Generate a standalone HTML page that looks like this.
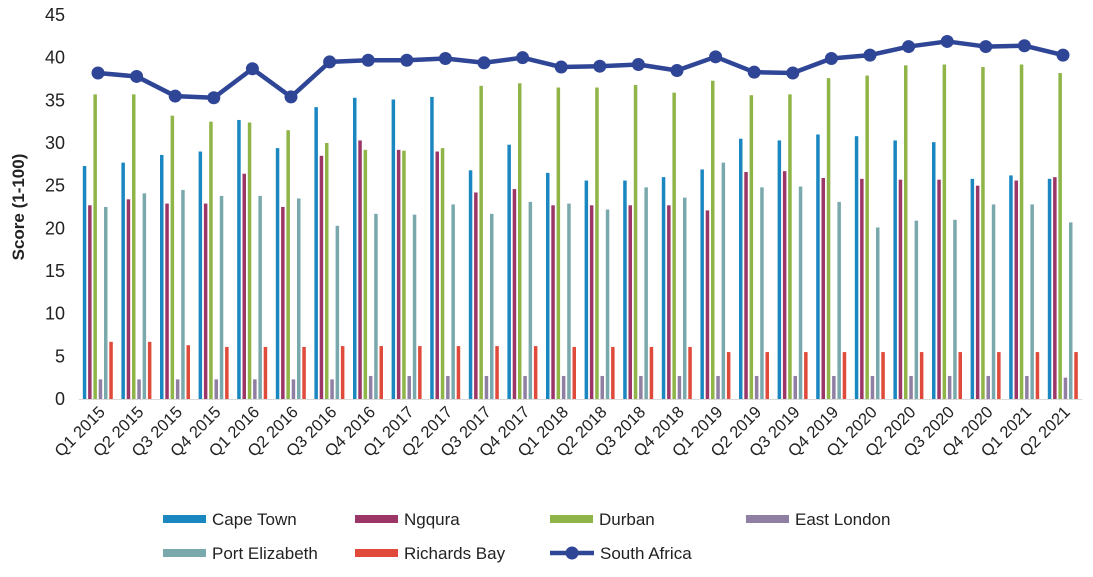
<!DOCTYPE html>
<html><head><meta charset="utf-8"><style>
body{margin:0;background:#fff;font-family:"Liberation Sans",sans-serif;}
svg text{font-family:"Liberation Sans",sans-serif;fill:#222;}
</style></head><body>
<svg id="chart" width="1093" height="572" xmlns="http://www.w3.org/2000/svg">
<g id="yaxis"></g>
<g id="xaxis"></g>
<g id="bars"></g>
<g id="line"></g>
<text transform="translate(24,207) rotate(-90)" text-anchor="middle" font-size="17" font-weight="bold">Score (1-100)</text>
<g id="legend"></g>
</svg>
<script>
const categories=["Q1 2015","Q2 2015","Q3 2015","Q4 2015","Q1 2016","Q2 2016","Q3 2016","Q4 2016","Q1 2017","Q2 2017","Q3 2017","Q4 2017","Q1 2018","Q2 2018","Q3 2018","Q4 2018","Q1 2019","Q2 2019","Q3 2019","Q4 2019","Q1 2020","Q2 2020","Q3 2020","Q4 2020","Q1 2021","Q2 2021"];
const capeTown=[27.3,27.7,28.6,29,32.7,29.4,34.2,35.3,35.1,35.4,26.8,29.8,26.5,25.6,25.6,26,26.9,30.5,30.3,31,30.8,30.3,30.1,25.8,26.2,25.8];
const ngqura=[22.7,23.4,22.9,22.9,26.4,22.5,28.5,30.3,29.2,29,24.2,24.6,22.7,22.7,22.7,22.7,22.1,26.6,26.7,25.9,25.8,25.7,25.7,25,25.6,26];
const durban=[35.7,35.7,33.2,32.5,32.4,31.5,30,29.2,29.1,29.4,36.7,37,36.5,36.5,36.8,35.9,37.3,35.6,35.7,37.6,37.9,39.1,39.2,38.9,39.2,38.2];
const eastLondon=[2.3,2.3,2.3,2.3,2.3,2.3,2.3,2.7,2.7,2.7,2.7,2.7,2.7,2.7,2.7,2.7,2.7,2.7,2.7,2.7,2.7,2.7,2.7,2.7,2.7,2.5];
const portElizabeth=[22.5,24.1,24.5,23.8,23.8,23.5,20.3,21.7,21.6,22.8,21.7,23.1,22.9,22.2,24.8,23.6,27.7,24.8,24.9,23.1,20.1,20.9,21,22.8,22.8,20.7];
const richardsBay=[6.7,6.7,6.3,6.1,6.1,6.1,6.2,6.2,6.2,6.2,6.2,6.2,6.1,6.1,6.1,6.1,5.5,5.5,5.5,5.5,5.5,5.5,5.5,5.5,5.5,5.5];
const southAfrica=[38.2,37.8,35.5,35.3,38.7,35.4,39.5,39.7,39.7,39.9,39.4,40,38.9,39,39.2,38.5,40.1,38.3,38.2,39.9,40.3,41.3,41.9,41.3,41.4,40.3];
const yTicks=[0,5,10,15,20,25,30,35,40,45];
const seriesNames=["Cape Town","Ngqura","Durban","East London","Port Elizabeth","Richards Bay"];
const seriesData=[capeTown,ngqura,durban,eastLondon,portElizabeth,richardsBay];
const colors=["#1a87c0","#9c3667","#8fb447","#8f7fa3","#7aa9ad","#df4a3a"];
const NS="http://www.w3.org/2000/svg";
const x0=78.7,gw=38.6,y0=399,yTop=15,yMax=45;
function y(v){return y0-(v/yMax)*(y0-yTop);}
function xc(i){return x0+gw*(i+0.5);}
function mk(t,a,p){const e=document.createElementNS(NS,t);for(const k in a)e.setAttribute(k,a[k]);p.appendChild(e);return e;}
const ya=document.getElementById('yaxis');
yTicks.forEach(t=>{const e=mk('text',{x:65,y:y(t)+6,'text-anchor':'end','font-size':18},ya);e.textContent=t;

});
const xa=document.getElementById('xaxis');
const ax=mk('line',{x1:x0,x2:x0+gw*categories.length,y1:y0+0.5,y2:y0+0.5,stroke:'#d9d9d9','stroke-width':1},xa);


categories.forEach((c,i)=>{const e=mk('text',{transform:`translate(${xc(i)+8},${y0+14}) rotate(-45)`,'text-anchor':'end','font-size':16.5},xa);e.textContent=c;

});
const bg=document.getElementById('bars');
seriesData.forEach((d,s)=>{d.forEach((v,i)=>{const bx=xc(i)-13.5+s*5.3;
const r=mk('rect',{x:bx-1.7,y:y(v),width:3.5,height:y0-y(v),fill:colors[s]},bg);

});});
const lg=document.getElementById('line');
const pl=mk('polyline',{points:southAfrica.map((v,i)=>xc(i)+','+y(v)).join(' '),fill:'none',stroke:'#2f4596','stroke-width':4.5,'stroke-linejoin':'round'},lg);


southAfrica.forEach((v,i)=>{const c=mk('circle',{cx:xc(i),cy:y(v),r:6.5,fill:'#2f4596'},lg);

});
const leg=document.getElementById('legend');
const legItems=[[0,163,519],[1,355,519],[2,550,519],[3,746,519],[4,163,553],[5,355,553]];
legItems.forEach(([s,lx,ly])=>{const g=mk('g',{},leg);


mk('rect',{x:lx,y:ly-4,width:43,height:8,fill:colors[s]},g);
const t=mk('text',{x:lx+49,y:ly+6,'font-size':17},g);t.textContent=seriesNames[s];});
const g=mk('g',{},leg);


mk('line',{x1:550,x2:594,y1:553,y2:553,stroke:'#2f4596','stroke-width':4.5},g);
mk('circle',{cx:572,cy:553,r:6.5,fill:'#2f4596'},g);
const t=mk('text',{x:600,y:559,'font-size':17},g);t.textContent='South Africa';
</script>
</body></html>
